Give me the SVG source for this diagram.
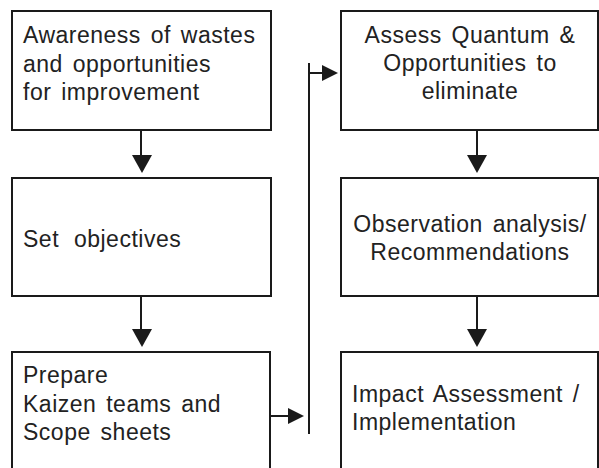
<svg xmlns="http://www.w3.org/2000/svg" width="599" height="468" viewBox="0 0 599 468">
  <defs>
    <style>
      .box { fill: #ffffff; stroke: #1a1a1a; stroke-width: 2; }
      .line { fill: none; stroke: #1a1a1a; stroke-width: 2; }
      .head { fill: #1a1a1a; stroke: none; }
      text { font-family: "Liberation Sans", Arial, sans-serif; font-size: 23px; fill: #222222; letter-spacing: 0.5px; word-spacing: 3px; }
      .mid { text-anchor: middle; }
    </style>
  </defs>
  <rect width="599" height="468" fill="#ffffff"/>

  <!-- left column -->
  <g id="awareness">
    <rect class="box" x="12" y="11" width="259" height="119"/>
    <text x="23" y="43">Awareness of wastes</text>
    <text x="23" y="72">and opportunities</text>
    <text x="23" y="100">for improvement</text>
  </g>
  <g id="objectives">
    <rect class="box" x="12" y="178" width="259" height="118"/>
    <text x="23" y="247" style="word-spacing: 8px">Set objectives</text>
  </g>
  <g id="prepare">
    <rect class="box" x="12" y="352" width="258" height="130"/>
    <text x="23" y="383">Prepare</text>
    <text x="23" y="412">Kaizen teams and</text>
    <text x="23" y="440">Scope sheets</text>
  </g>

  <!-- right column -->
  <g id="assess">
    <rect class="box" x="341" y="11" width="257" height="119"/>
    <text class="mid" x="470" y="43">Assess Quantum &amp;</text>
    <text class="mid" x="470" y="71">Opportunities to</text>
    <text class="mid" x="470" y="99">eliminate</text>
  </g>
  <g id="observation">
    <rect class="box" x="341" y="178" width="257" height="118"/>
    <text class="mid" x="470" y="232">Observation analysis/</text>
    <text class="mid" x="470" y="260">Recommendations</text>
  </g>
  <g id="impact">
    <rect class="box" x="341" y="352" width="257" height="130"/>
    <text x="352" y="402">Impact Assessment /</text>
    <text x="352" y="430">Implementation</text>
  </g>

  <!-- connectors -->
  <g id="connectors">
    <line class="line" x1="141" y1="130" x2="141" y2="156"/>
    <polygon class="head" points="132,155 152,155 142,173"/>
    <line class="line" x1="141" y1="296" x2="141" y2="330"/>
    <polygon class="head" points="132,329 152,329 142,347"/>

    <line class="line" x1="477" y1="130" x2="477" y2="156"/>
    <polygon class="head" points="467,155 487,155 477,173"/>
    <line class="line" x1="477" y1="296" x2="477" y2="330"/>
    <polygon class="head" points="467,329 487,329 477,347"/>

    <line class="line" x1="271" y1="416" x2="290" y2="416"/>
    <polygon class="head" points="288,408 288,424 304,416"/>
    <line class="line" x1="309" y1="63" x2="309" y2="434"/>
    <line class="line" x1="309" y1="73" x2="324" y2="73"/>
    <polygon class="head" points="322,65 322,81 338,73"/>
  </g>
</svg>
